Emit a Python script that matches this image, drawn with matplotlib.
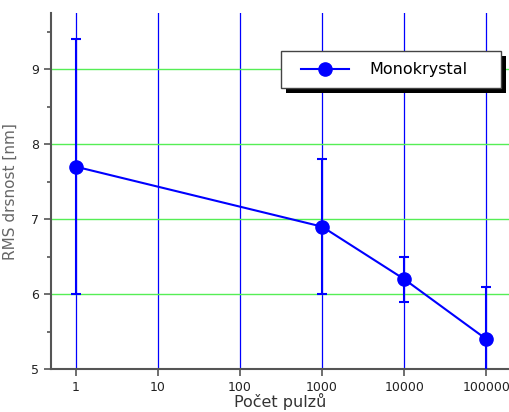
import matplotlib
matplotlib.use("Agg")
import matplotlib.pyplot as plt
from matplotlib.patches import Rectangle
from matplotlib.lines import Line2D

# data
pulses = [1, 1000, 10000, 100000]
rms = [7.7, 6.9, 6.2, 5.4]
rms_err = [1.7, 0.9, 0.3, 0.7]
x_ticks = [1, 10, 100, 1000, 10000, 100000]
x_labels = ["1", "10", "100", "1000", "10000", "100000"]
y_ticks = [5, 6, 7, 8, 9]

fig = plt.figure(figsize=(5.09, 4.12), dpi=100)
ax = fig.add_axes([0.1002, 0.1044, 0.8998, 0.8636])

ax.set_xscale("log")
ax.set_xlim(0.495, 190000)
ax.set_ylim(5, 9.75)

# grid lines
for xv in x_ticks:
    ax.axvline(xv, color="#0000ff", lw=0.9, zorder=1)
for yv in y_ticks[1:]:
    ax.axhline(yv, color="#55ee55", lw=1.0, zorder=1)

ax.errorbar(pulses, rms, yerr=rms_err, color="#0000ff", lw=1.5, marker="o",
            markersize=9.5, capsize=3.5, capthick=1.5, elinewidth=1.5,
            zorder=3)

ax.set_xticks(x_ticks)
ax.set_xticklabels(x_labels)
ax.minorticks_off()
ax.set_yticks(y_ticks)
ax.set_yticks([5.5, 6.5, 7.5, 8.5, 9.5], minor=True)
ax.tick_params(axis="both", labelsize=9, colors="#555555", labelcolor="#222222",
               width=1.2, length=5, direction="out")
ax.tick_params(axis="y", which="minor", length=3, width=1.2, colors="#555555")
ax.tick_params(axis="x", pad=4)

for s in ["top", "right"]:
    ax.spines[s].set_visible(False)
for s in ["left", "bottom"]:
    ax.spines[s].set_color("#555555")
    ax.spines[s].set_linewidth(1.5)

ax.set_ylabel("RMS drsnost [nm]", fontsize=11, color="#666666", labelpad=10)
ax.set_xlabel("Počet pulzů", fontsize=11.5, color="#333333", labelpad=-1)

# legend box with a hard black shadow (axes fractions)
bx, by, bw, bh = 0.502, 0.789, 0.4805, 0.104
ax.add_patch(Rectangle((bx + 0.011, by - 0.014), bw, bh, transform=ax.transAxes,
                       facecolor="black", edgecolor="none", zorder=9, clip_on=False))
ax.add_patch(Rectangle((bx, by), bw, bh, transform=ax.transAxes, facecolor="white",
                       edgecolor="#444444", lw=1.0, zorder=10, clip_on=False))

handle = Line2D([], [], color="#0000ff", lw=1.5, marker="o", markersize=9.5)
leg = ax.legend([handle], ["Monokrystal"], loc="center left",
                bbox_to_anchor=(bx + 0.044, by, bw, bh), frameon=False,
                fontsize=11.5, handlelength=3.0, handletextpad=1.25,
                borderpad=0, borderaxespad=0)
leg.set_zorder(11)

fig.savefig("out.png", dpi=100)
